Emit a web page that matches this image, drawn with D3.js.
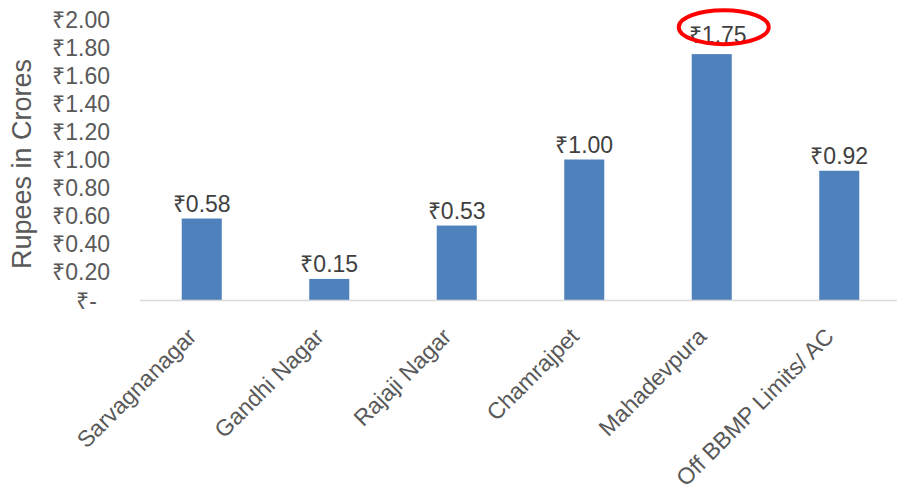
<!DOCTYPE html>
<html>
<head>
<meta charset="utf-8">
<script src="https://cdn.jsdelivr.net/npm/d3@7"></script>
<style>
  body { margin: 0; background: #fff; }
  text { font-family: "Liberation Sans", Arial, sans-serif; }
</style>
</head>
<body>
<div id="chart"></div>
<script>
var width = 897, height = 491;

var categories = ["Sarvagnanagar", "Gandhi Nagar", "Rajaji Nagar", "Chamrajpet", "Mahadevpura", "Off BBMP Limits/ AC"];
var values = [0.58, 0.15, 0.53, 1.00, 1.75, 0.92];
var yTicks = [0, 0.2, 0.4, 0.6, 0.8, 1.0, 1.2, 1.4, 1.6, 1.8, 2.0];
var highlighted = "Mahadevpura";

var svg = d3.select("#chart").append("svg")
    .attr("width", width)
    .attr("height", height);

var x = d3.scaleBand()
    .domain(categories)
    .range([138, 903])
    .paddingInner(0.686)
    .paddingOuter(0.343);

var y = d3.scaleLinear()
    .domain([0, 2])
    .range([300, 19]);

function rupee(d) {
    return d === 0 ? "₹-" : "₹" + d.toFixed(2);
}

// y axis labels
var yAxis = svg.append("g")
    .attr("transform", "translate(110,0)")
    .call(d3.axisLeft(y).tickValues(yTicks).tickFormat(rupee).tickSize(0).tickPadding(0));
yAxis.select(".domain").remove();
yAxis.selectAll("text")
    .attr("fill", "#595959")
    .style("font-size", "23px")
    .attr("dy", "0.35em")
    .attr("dx", function (d) { return d === 0 ? -13 : 0; });

// axis title
svg.append("text")
    .attr("transform", "translate(31,164) rotate(-90)")
    .attr("text-anchor", "middle")
    .attr("fill", "#595959")
    .style("font-size", "27px")
    .text("Rupees in Crores");

// bars
svg.selectAll(".bar")
    .data(values)
    .enter()
    .append("rect")
    .attr("class", "bar")
    .attr("x", function (d, i) { return x(categories[i]); })
    .attr("y", function (d) { return y(d); })
    .attr("width", x.bandwidth())
    .attr("height", function (d) { return y(0) - y(d); })
    .attr("fill", "#4f81bd");

// x axis line
svg.append("line")
    .attr("x1", 140).attr("x2", width)
    .attr("y1", y(0) + 0.5).attr("y2", y(0) + 0.5)
    .attr("stroke", "#d9d9d9")
    .attr("stroke-width", 1.5);

// data labels
svg.selectAll(".label")
    .data(values)
    .enter()
    .append("text")
    .attr("class", "label")
    .attr("x", function (d, i) { return x(categories[i]) + x.bandwidth() / 2 + (categories[i] === highlighted ? 6 : 0); })
    .attr("y", function (d, i) { return y(d) - (categories[i] === highlighted ? 11 : 7); })
    .attr("text-anchor", "middle")
    .attr("fill", "#404040")
    .style("font-size", "23px")
    .text(rupee);

// category labels
svg.selectAll(".cat")
    .data(categories)
    .enter()
    .append("text")
    .attr("class", "cat")
    .attr("transform", function (d) {
        return "translate(" + (x(d) + x.bandwidth() / 2 - 4) + ",338) rotate(-45)";
    })
    .attr("text-anchor", "end")
    .attr("fill", "#595959")
    .style("font-size", "23px")
    .text(function (d) { return d; });

// red highlight ring
var hi = categories.indexOf(highlighted);
svg.append("ellipse")
    .attr("cx", x(highlighted) + x.bandwidth() / 2 + 12)
    .attr("cy", y(values[hi]) - 27)
    .attr("rx", 45)
    .attr("ry", 17)
    .attr("fill", "none")
    .attr("stroke", "#ff0000")
    .attr("stroke-width", 4);
</script>
</body>
</html>
